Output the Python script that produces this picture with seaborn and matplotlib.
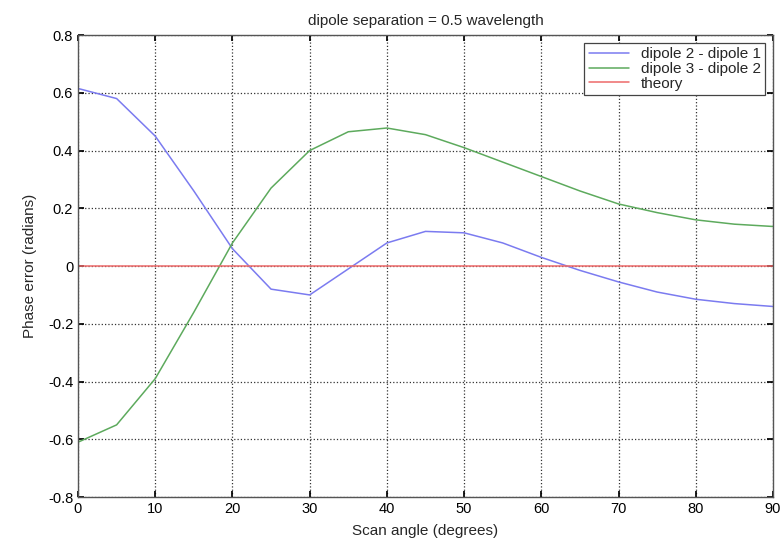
import pandas as pd
import matplotlib
matplotlib.use("Agg")
import matplotlib.pyplot as plt
import seaborn as sns

# Scan angles (degrees) and measured phase errors (radians)
angles = [0, 5, 10, 15, 20, 25, 30, 35, 40, 45, 50, 55, 60, 65, 70, 75, 80, 85, 90]
dipole_21 = [0.615, 0.58, 0.45, 0.26, 0.06, -0.08, -0.10, -0.01, 0.08, 0.12,
             0.115, 0.08, 0.03, -0.015, -0.055, -0.09, -0.115, -0.13, -0.14]
dipole_32 = [-0.61, -0.55, -0.39, -0.16, 0.08, 0.27, 0.40, 0.465, 0.478, 0.455,
             0.41, 0.36, 0.31, 0.26, 0.215, 0.185, 0.16, 0.145, 0.137]
theory = [0.0] * len(angles)

series_names = ["dipole 2 - dipole 1", "dipole 3 - dipole 2", "theory"]
colors = ["#7b7bf0", "#5daa5d", "#ee6a6a"]


def main():
    sns.set_theme(style="ticks")
    plt.rcParams["font.family"] = ["Liberation Sans", "DejaVu Sans"]

    data = pd.concat([
        pd.DataFrame({"angle": angles, "value": vals, "series": name})
        for name, vals in zip(series_names, [dipole_21, dipole_32, theory])
    ])

    fig = plt.figure(figsize=(7.8, 5.56), dpi=100)
    ax = fig.add_axes([0.1, 0.106, 0.891, 0.831])

    sns.lineplot(data=data, x="angle", y="value", hue="series",
                 palette=dict(zip(series_names, colors)), linewidth=1.1, ax=ax)

    ax.set_xlim(0, 90)
    ax.set_ylim(-0.8, 0.8)
    ax.set_xticks(range(0, 91, 10))
    ax.set_yticks([-0.8, -0.6, -0.4, -0.2, 0, 0.2, 0.4, 0.6, 0.8])
    ax.set_yticklabels(["-0.8", "-0.6", "-0.4", "-0.2", "0", "0.2", "0.4", "0.6", "0.8"])
    ax.grid(True, color="#333333", linestyle=":", linewidth=0.9)
    ax.tick_params(direction="in", labelsize=10.5, colors="black", length=4,
                   top=True, right=True)
    for s in ax.spines.values():
        s.set_color("#555555")
        s.set_linewidth(1.0)

    ax.set_title("dipole separation = 0.5 wavelength", fontsize=11, pad=7)
    ax.set_xlabel("Scan angle (degrees)", fontsize=11, labelpad=6)
    ax.set_ylabel("Phase error (radians)", fontsize=11, labelpad=8)

    leg = ax.legend(title=None, loc="upper right", fontsize=11, frameon=True,
                    fancybox=False, borderpad=0.3, labelspacing=0.05,
                    handlelength=2.6, borderaxespad=0.5)
    leg.get_frame().set_edgecolor("#444444")
    leg.get_frame().set_linewidth(0.9)
    leg.get_frame().set_alpha(1)

    fig.savefig("out.png", dpi=100)


if __name__ == "__main__":
    main()
